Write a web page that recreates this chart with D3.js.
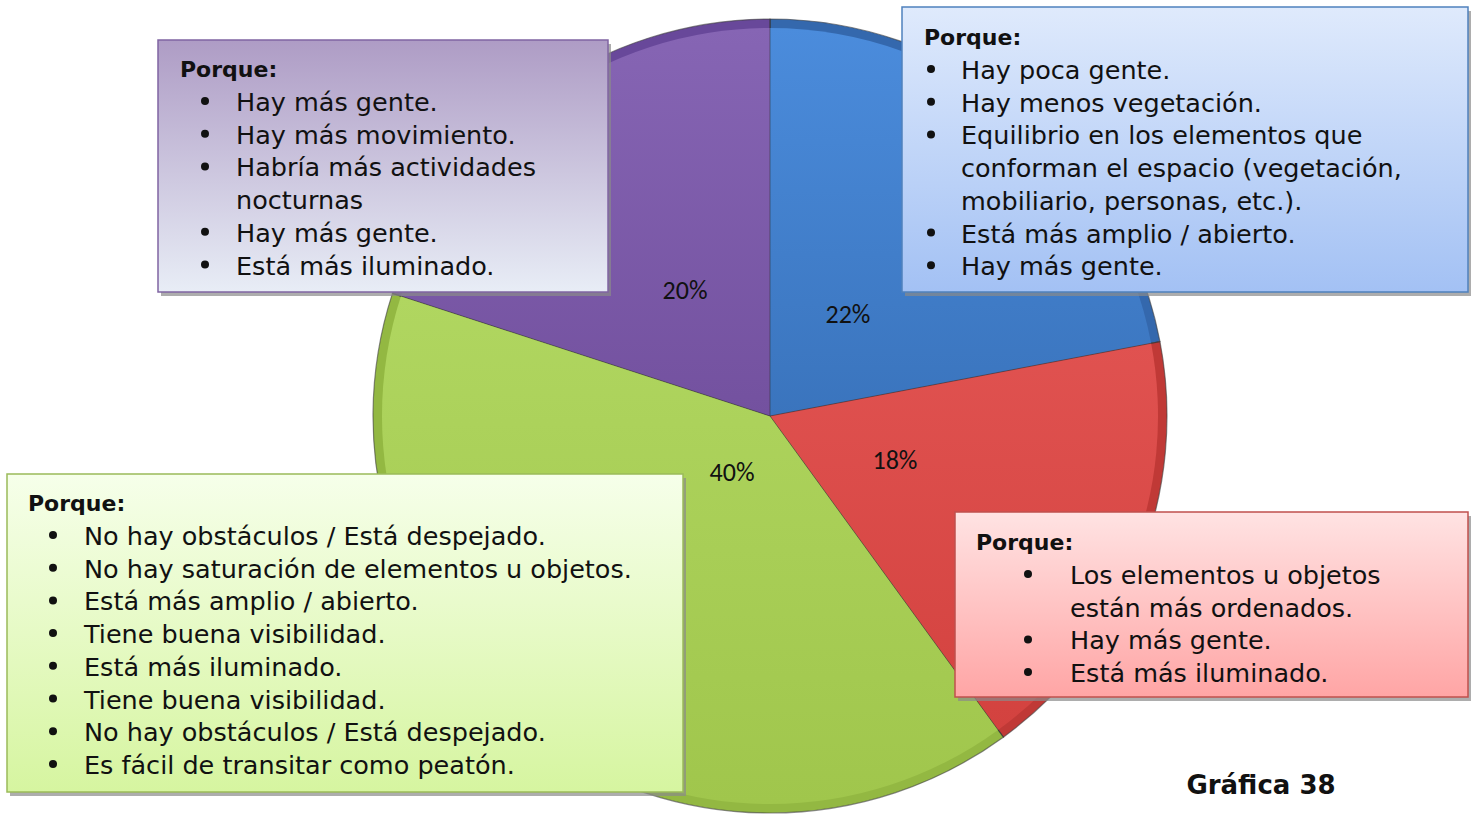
<!DOCTYPE html>
<html>
<head>
<meta charset="utf-8">
<script src="https://cdn.jsdelivr.net/npm/d3@7"></script>
<style>
  body { margin: 0; background: #fff; }
  svg { display: block; }
</style>
</head>
<body>
<svg id="chart" width="1473" height="814"></svg>
<script>
'use strict';

// data
var categories = ['Azul', 'Rojo', 'Verde', 'Morado'];
var shares = [22, 18, 40, 20];
var sliceColors = ['#3a74bd', '#d3423f', '#a0c64c', '#73519f'];
var sliceLight = ['#4b8cdc', '#e05250', '#b0d660', '#8665b4'];
var sliceDark = ['#3468ad', '#c03936', '#93b842', '#68489a'];

var notes = {
    Morado: ['Hay más gente.', 'Hay más movimiento.', 'Habría más actividades', '#nocturnas', 'Hay más gente.', 'Está más iluminado.'],
    Azul: ['Hay poca gente.', 'Hay menos vegetación.', 'Equilibrio en los elementos que', '#conforman el espacio (vegetación,', '#mobiliario, personas, etc.).', 'Está más amplio / abierto.', 'Hay más gente.'],
    Verde: ['No hay obstáculos / Está despejado.', 'No hay saturación de elementos u objetos.', 'Está más amplio / abierto.', 'Tiene buena visibilidad.', 'Está más iluminado.', 'Tiene buena visibilidad.', 'No hay obstáculos / Está despejado.', 'Es fácil de transitar como peatón.'],
    Rojo: ['Los elementos u objetos', '#están más ordenados.', 'Hay más gente.', 'Está más iluminado.']
};
var heading = 'Porque:';
var caption = 'Gráfica 38';

var svg = d3.select('#chart');
var defs = svg.append('defs');

var cx = 770, cy = 416, radius = 397;

var pie = d3.pie().sort(null).value(function (d) { return d; });
var arcs = pie(shares);
var arc = d3.arc().innerRadius(0).outerRadius(radius);
var inner = d3.arc().innerRadius(0).outerRadius(radius - 9);

categories.forEach(function (c, i) {
    var g = defs.append('linearGradient').attr('id', 'sl' + i)
        .attr('x1', 0).attr('y1', 0).attr('x2', 0).attr('y2', 1);
    g.append('stop').attr('offset', '0%').attr('stop-color', sliceLight[i]);
    g.append('stop').attr('offset', '100%').attr('stop-color', sliceColors[i]);
});

var pieG = svg.append('g').attr('transform', 'translate(' + cx + ',' + cy + ')');

pieG.selectAll('path.edge')
    .data(arcs)
    .enter().append('path')
    .attr('class', 'edge')
    .attr('d', arc)
    .attr('fill', function (d, i) { return sliceDark[i]; })
    .attr('stroke', '#404040')
    .attr('stroke-opacity', 0.6)
    .attr('stroke-width', 1.2);

pieG.selectAll('path.face')
    .data(arcs)
    .enter().append('path')
    .attr('class', 'face')
    .attr('d', inner)
    .attr('fill', function (d, i) { return 'url(#sl' + i + ')'; });

pieG.selectAll('line.sep')
    .data(arcs)
    .enter().append('line')
    .attr('x1', 0).attr('y1', 0)
    .attr('x2', function (d) { return radius * Math.sin(d.startAngle); })
    .attr('y2', function (d) { return -radius * Math.cos(d.startAngle); })
    .attr('stroke', '#2b2b2b')
    .attr('stroke-opacity', 0.5)
    .attr('stroke-width', 1);

var labelPos = { Azul: [78, -102], Rojo: [125, 44], Verde: [-38, 56], Morado: [-85, -126] };
pieG.selectAll('text.pct')
    .data(arcs)
    .enter().append('text')
    .attr('class', 'pct')
    .attr('x', function (d, i) { return labelPos[categories[i]][0]; })
    .attr('y', function (d, i) { return labelPos[categories[i]][1]; })
    .attr('text-anchor', 'middle')
    .attr('dominant-baseline', 'central')
    .style('font-family', 'Carlito, "Open Sans", sans-serif')
    .style('font-size', '26px')
    .style('fill', '#111')
    .text(function (d) { return d.data + '%'; });

// note boxes
var boxes = [
    { key: 'Morado', x: 158, y: 40, w: 450, h: 252, top: '#ae9cc5', bottom: '#e8edf6', border: '#8064a2', head: 22, bullet: 47, text: 78, first: 62 },
    { key: 'Azul', x: 902, y: 7, w: 566, h: 285, top: '#dfeafc', bottom: '#a3c1f4', border: '#4f81bd', head: 22, bullet: 29, text: 59, first: 63 },
    { key: 'Verde', x: 7, y: 474, w: 676, h: 318, top: '#f6ffea', bottom: '#d6f5a0', border: '#9bbb59', head: 21, bullet: 46, text: 77, first: 62 },
    { key: 'Rojo', x: 955, y: 512, w: 513, h: 185, top: '#ffe3e3', bottom: '#ffa5a5', border: '#c0504d', head: 21, bullet: 73, text: 115, first: 63 }
];
var lineH = 32.7;

boxes.forEach(function (b, bi) {
    var gr = defs.append('linearGradient').attr('id', 'bx' + bi)
        .attr('x1', 0).attr('y1', 0).attr('x2', 0).attr('y2', 1);
    gr.append('stop').attr('offset', '0%').attr('stop-color', b.top);
    gr.append('stop').attr('offset', '100%').attr('stop-color', b.bottom);

    var g = svg.append('g').attr('transform', 'translate(' + b.x + ',' + b.y + ')');
    g.append('rect')
        .attr('x', 3).attr('y', 4).attr('width', b.w).attr('height', b.h)
        .attr('fill', '#8a8a8a').attr('opacity', 0.7);
    g.append('rect')
        .attr('width', b.w).attr('height', b.h)
        .attr('fill', 'url(#bx' + bi + ')')
        .attr('stroke', b.border).attr('stroke-width', 1.5);

    g.append('text')
        .attr('x', b.head).attr('y', b.first - lineH + 8)
        .style('font-family', '"DejaVu Sans", sans-serif')
        .style('font-weight', 'bold')
        .style('font-size', '22px')
        .style('fill', '#111')
        .text(heading);

    var rows = notes[b.key];
    rows.forEach(function (r, ri) {
        var y = b.first + ri * lineH;
        var cont = r.charAt(0) === '#';
        if (!cont) {
            g.append('circle').attr('cx', b.bullet).attr('cy', y - 1).attr('r', 4).attr('fill', '#111');
        }
        g.append('text')
            .attr('x', b.text).attr('y', y)
            .attr('dominant-baseline', 'central')
            .style('font-family', '"DejaVu Sans", sans-serif')
            .style('font-size', '25.5px')
            .style('fill', '#111')
            .text(cont ? r.slice(1) : r);
    });
});

svg.append('text')
    .attr('x', 1261).attr('y', 785)
    .attr('text-anchor', 'middle')
    .attr('dominant-baseline', 'central')
    .style('font-family', '"DejaVu Sans", sans-serif')
    .style('font-weight', 'bold')
    .style('font-size', '26px')
    .style('fill', '#111')
    .text(caption);
</script>
</body>
</html>
